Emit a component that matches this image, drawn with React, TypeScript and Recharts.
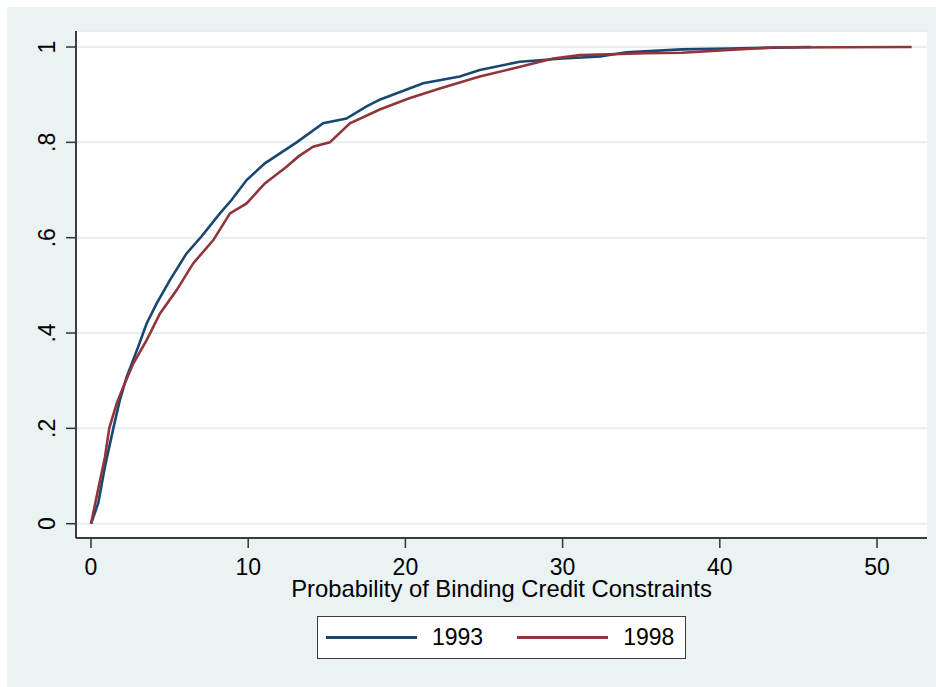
import React from 'react';
import { LineChart, Line, XAxis, YAxis, CartesianGrid, Legend, Label } from 'recharts';

const x1993 = [0, 0.46, 0.89, 1.42, 1.84, 2.27, 3.0, 3.54, 4.18, 5.02, 6.08, 7.04, 8.2, 8.94, 9.9, 11.06, 13.08, 14.77, 16.25, 17.5, 18.4, 19.2, 21.13, 23.46, 24.73, 27.27, 30.0, 32.4, 34.05, 37.6, 40.6, 45.8];
const cdf1993 = [0, 0.043, 0.12, 0.2, 0.26, 0.308, 0.371, 0.42, 0.462, 0.511, 0.567, 0.603, 0.651, 0.679, 0.721, 0.756, 0.8, 0.84, 0.85, 0.875, 0.89, 0.9, 0.924, 0.938, 0.952, 0.969, 0.976, 0.98, 0.989, 0.995, 0.997, 1.0];

// 1998 survey
const x1998 = [0, 0.36, 0.89, 1.16, 1.63, 2.05, 2.69, 3.54, 4.39, 5.45, 6.5, 7.78, 8.84, 9.9, 11.06, 12.44, 13.18, 14.13, 15.19, 16.47, 18.37, 20.2, 22.19, 24.73, 26.85, 29.4, 31.1, 35.3, 37.6, 40.6, 43.4, 52.2];
const cdf1998 = [0, 0.057, 0.14, 0.2, 0.252, 0.287, 0.336, 0.385, 0.441, 0.49, 0.546, 0.595, 0.651, 0.672, 0.714, 0.749, 0.77, 0.791, 0.8, 0.84, 0.869, 0.892, 0.913, 0.938, 0.955, 0.976, 0.983, 0.987, 0.988, 0.994, 0.999, 1.0];

const xTicks = [0, 10, 20, 30, 40, 50];
const yTicks = [0, 0.2, 0.4, 0.6, 0.8, 1];
const yTickLabels = ['0', '.2', '.4', '.6', '.8', '1'];
const seriesNames = ['1993', '1998'];

const NAVY = '#1a476f';
const MAROON = '#90353b';
const BG = '#eaf2f3';
const FONT = '"Liberation Sans", Arial, sans-serif';

const data1993 = x1993.map((x, i) => ({ x, y: cdf1993[i] }));
const data1998 = x1998.map((x, i) => ({ x, y: cdf1998[i] }));

const YTick = (props: any) => {
  const { x, y, payload } = props;
  const idx = yTicks.indexOf(payload.value);
  const lx = x - 9;
  return (
    <text
      x={lx}
      y={y}
      transform={`rotate(-90, ${lx}, ${y})`}
      textAnchor="middle"
      fontSize={23}
      fontFamily={FONT}
      fill="#000"
    >
      {idx >= 0 ? yTickLabels[idx] : payload.value}
    </text>
  );
};

const LegendBox = () => {
  const colors = [NAVY, MAROON];
  return (
    <div
      style={{
        width: 369,
        height: 43,
        boxSizing: 'border-box',
        border: '1px solid #3a3a3a',
        background: '#fff',
        display: 'flex',
        alignItems: 'center',
        paddingLeft: 8,
        fontFamily: FONT,
        fontSize: 23,
        color: '#000',
      }}
    >
      {seriesNames.map((name, i) => (
        <div key={name} style={{ display: 'flex', alignItems: 'center', marginRight: i === 0 ? 34 : 0 }}>
          <span style={{ display: 'inline-block', width: 91, height: 3, background: colors[i], marginRight: 15 }} />
          <span style={{ lineHeight: '23px' }}>{name}</span>
        </div>
      ))}
    </div>
  );
};

export default function App() {
  return (
    <div
      style={{
        position: 'absolute',
        left: 7,
        top: 7,
        width: 929,
        height: 680,
        background: BG,
        fontFamily: FONT,
      }}
    >
      <LineChart width={929} height={680} margin={{ top: 24, right: 9, left: 0, bottom: 0 }}>
        <CartesianGrid horizontal vertical={false} fill="#fff" stroke="#e6eef1" strokeWidth={2} />
        <XAxis
          type="number"
          dataKey="x"
          domain={[-0.954, 53.18]}
          ticks={xTicks}
          allowDataOverflow
          height={106}
          tickSize={10}
          tickMargin={11}
          tick={{ fontSize: 23, fill: '#000', fontFamily: FONT }}
          axisLine={{ stroke: '#000', strokeWidth: 1.5 }}
          tickLine={{ stroke: '#333', strokeWidth: 1.5 }}
        >
          <Label
            content={(props: any) => {
              const vb = props.viewBox || { x: 0, y: 0, width: 0 };
              return (
                <text
                  x={vb.x + vb.width / 2}
                  y={vb.y + 59}
                  textAnchor="middle"
                  fontSize={23.8}
                  fontFamily={FONT}
                  fill="#000"
                >
                  Probability of Binding Credit Constraints
                </text>
              );
            }}
          />
        </XAxis>
        <YAxis
          type="number"
          domain={[-0.03, 1.0336]}
          ticks={yTicks}
          allowDataOverflow
          width={69}
          tickSize={10}
          tick={<YTick />}
          axisLine={{ stroke: '#000', strokeWidth: 1.5 }}
          tickLine={{ stroke: '#333', strokeWidth: 1.5 }}
        />
        <Legend
          layout="horizontal"
          verticalAlign="bottom"
          align="left"
          width={369}
          height={43}
          wrapperStyle={{ left: 310, top: 609 }}
          content={() => <LegendBox />}
        />
        <Line
          data={data1993}
          dataKey="y"
          name="1993"
          type="linear"
          stroke={NAVY}
          strokeWidth={2.6}
          dot={false}
          isAnimationActive={false}
        />
        <Line
          data={data1998}
          dataKey="y"
          name="1998"
          type="linear"
          stroke={MAROON}
          strokeWidth={2.6}
          dot={false}
          isAnimationActive={false}
        />
      </LineChart>
    </div>
  );
}
